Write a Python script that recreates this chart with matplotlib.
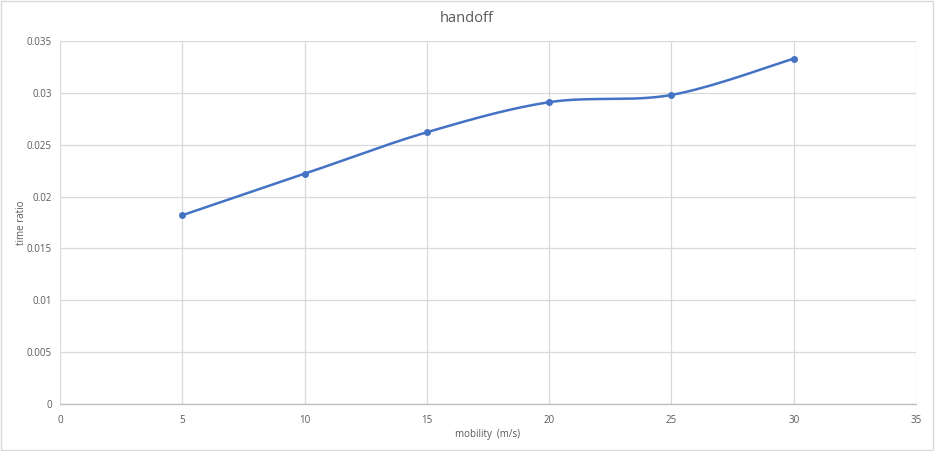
import numpy as np
import matplotlib
matplotlib.use("Agg")
import matplotlib.pyplot as plt
from matplotlib.patches import Rectangle

mobility = [5, 10, 15, 20, 25, 30]
time_ratio = [0.0182, 0.0222, 0.0262, 0.0291, 0.0298, 0.0333]
x_ticks = [0, 5, 10, 15, 20, 25, 30, 35]
y_ticks = [0, 0.005, 0.01, 0.015, 0.02, 0.025, 0.03, 0.035]
y_tick_labels = ["0", "0.005", "0.01", "0.015", "0.02", "0.025", "0.03", "0.035"]

plt.rcParams['font.family'] = ['Open Sans', 'DejaVu Sans']

def smooth(xs, ys, n=40):
    xs = np.asarray(xs, float); ys = np.asarray(ys, float)
    px = np.concatenate([[xs[0]], xs, [xs[-1]]])
    py = np.concatenate([[ys[0]], ys, [ys[-1]]])
    ox, oy = [], []
    t = np.linspace(0, 1, n)
    for i in range(1, len(px) - 2):
        p0 = np.array([px[i], py[i]]); p3 = np.array([px[i + 1], py[i + 1]])
        c1 = p0 + (np.array([px[i + 1], py[i + 1]]) - np.array([px[i - 1], py[i - 1]])) / 6
        c2 = p3 - (np.array([px[i + 2], py[i + 2]]) - np.array([px[i], py[i]])) / 6
        b = ((1 - t) ** 3)[:, None] * p0 + (3 * (1 - t) ** 2 * t)[:, None] * c1 \
            + (3 * (1 - t) * t ** 2)[:, None] * c2 + (t ** 3)[:, None] * p3
        ox.extend(b[:, 0]); oy.extend(b[:, 1])
    return ox, oy

fig = plt.figure(figsize=(9.35, 4.51), dpi=100)
ax = fig.add_axes([60 / 935, 47 / 451, 856 / 935, 363 / 451])

sx, sy = smooth(mobility, time_ratio)
ax.plot(sx, sy, color="#4472C4", lw=1.8, zorder=3)
ax.plot(mobility, time_ratio, "o", color="#4472C4", ms=4, zorder=4)

ax.set_xlim(0, 35)
ax.set_ylim(0, 0.035)
ax.set_xticks(x_ticks)
ax.set_yticks(y_ticks)
ax.set_yticklabels(y_tick_labels)
ax.grid(True, color="#D9D9D9", lw=0.9)
ax.set_axisbelow(True)
for s in ["top", "right", "left"]:
    ax.spines[s].set_visible(False)
ax.spines["bottom"].set_color("#BFBFBF")
ax.spines["bottom"].set_linewidth(1.0)
ax.tick_params(length=0, labelsize=7, colors="#595959")
ax.tick_params(axis="x", pad=8)
ax.tick_params(axis="y", pad=6)

fig.text(467 / 935, 1 - 18 / 451, "handoff", fontsize=10.5, color="#595959",
         ha="center", va="center")
fig.text(488 / 935, 1 - 434 / 451, "mobility  (m/s)", fontsize=7, color="#595959",
         ha="center", va="center")
fig.text(21 / 935, 1 - 223 / 451, "time ratio", fontsize=7, color="#595959",
         ha="center", va="center", rotation=90)

fig.patches.append(Rectangle((0.001, 0.002), 0.997, 0.995, transform=fig.transFigure,
                             fill=False, edgecolor="#D9D9D9", lw=1.0))

fig.savefig("out.png", dpi=100, facecolor="white")
